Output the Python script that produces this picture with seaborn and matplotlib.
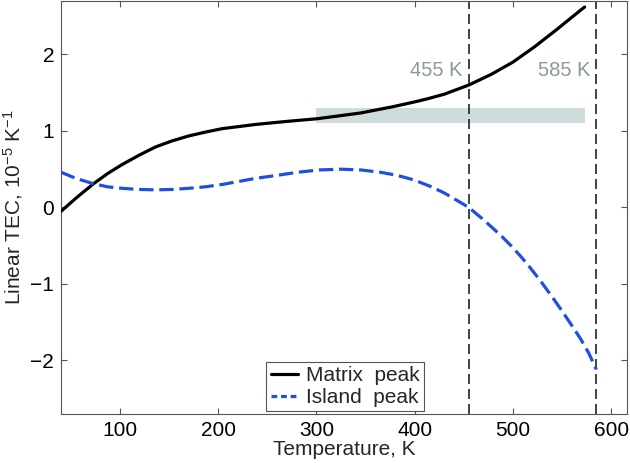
import pandas as pd
import matplotlib
matplotlib.use('Agg')
import matplotlib.pyplot as plt
import seaborn as sns

# Matrix peak (black solid)
matrix_T = [40, 55, 73, 87, 102, 119, 136, 153, 170, 187, 204, 238, 270, 301,
            345, 379, 400, 413, 430, 455, 478, 500, 522, 545, 569, 573]
matrix_tec = [-0.05, 0.12, 0.31, 0.44, 0.56, 0.68, 0.79, 0.87, 0.935, 0.985,
              1.03, 1.085, 1.125, 1.16, 1.235, 1.32, 1.38, 1.42, 1.48, 1.60,
              1.74, 1.90, 2.10, 2.33, 2.58, 2.62]

# Island peak (blue dashed)
island_T = [40, 55, 73, 87, 102, 119, 136, 153, 170, 187, 204, 221, 238, 260,
            281, 303, 325, 345, 365, 382, 399, 415, 430, 442, 455, 470, 488,
            498, 508, 518, 528, 538, 549, 559, 569, 577, 585]
island_tec = [0.46, 0.38, 0.31, 0.27, 0.25, 0.235, 0.23, 0.235, 0.25, 0.27, 0.30,
              0.34, 0.38, 0.42, 0.46, 0.49, 0.50, 0.49, 0.46, 0.42, 0.36, 0.28,
              0.19, 0.10, 0.0, -0.16, -0.37, -0.50, -0.64, -0.795, -0.96, -1.135,
              -1.335, -1.525, -1.72, -1.90, -2.12]

markers = [455, 585]
marker_labels = ['455 K', '585 K']
band_x = [300, 573]
band_y = [1.1, 1.3]

matrix_df = pd.DataFrame({'T': matrix_T, 'TEC': matrix_tec})
island_df = pd.DataFrame({'T': island_T, 'TEC': island_tec})

sns.set_style('ticks')
plt.rcParams['font.family'] = ['Liberation Sans', 'DejaVu Sans']
plt.rcParams['mathtext.default'] = 'regular'
plt.rcParams['axes.edgecolor'] = '#555555'
plt.rcParams['xtick.color'] = '#555555'
plt.rcParams['ytick.color'] = '#555555'
plt.rcParams['xtick.labelcolor'] = 'black'
plt.rcParams['ytick.labelcolor'] = 'black'

fig, ax = plt.subplots(figsize=(6.3, 4.63), dpi=100)
fig.subplots_adjust(left=0.097, right=0.995, bottom=0.106, top=0.998)

ax.fill_between(band_x, band_y[0], band_y[1], color='#cfdcdc', lw=0, zorder=1)

sns.lineplot(data=matrix_df, x='T', y='TEC', ax=ax, color='black', lw=2.3,
             label='Matrix  peak', zorder=3)
sns.lineplot(data=island_df, x='T', y='TEC', ax=ax, color='#1f4fe0', lw=2.3,
             label='Island  peak', zorder=3)
ax.lines[-1].set_dashes((4.5, 1.8))

for xm, lab in zip(markers, marker_labels):
    ax.axvline(xm, color='#222222', lw=1.2, ls=(0, (6, 3)), zorder=2)
    ax.text(xm - 6, 1.79, lab, ha='right', va='center', fontsize=14.5,
            color='#8c9a9a')

ax.set_xlim(40, 616)
ax.set_ylim(-2.7, 2.7)
ax.set_xticks([100, 200, 300, 400, 500, 600])
ax.set_yticks([-2, -1, 0, 1, 2])
ax.tick_params(direction='in', length=4, width=0.8, labelsize=15,
               top=True, right=True, pad=5)
ax.set_xlabel('Temperature, K', fontsize=15, labelpad=0)
ax.set_ylabel(r'Linear TEC, 10$^{-5}$ K$^{-1}$', fontsize=15, labelpad=4)

leg = ax.legend(loc='lower left', bbox_to_anchor=(0.363, 0.006), fontsize=15,
                handlelength=1.3, handletextpad=0.4, borderpad=0.2,
                labelspacing=0.15, fancybox=False, framealpha=1,
                edgecolor='#555555', borderaxespad=0)
leg.get_frame().set_linewidth(0.8)
leg.get_lines()[1].set_dashes((1.8, 1.2))

fig.savefig('out.png', dpi=100)
